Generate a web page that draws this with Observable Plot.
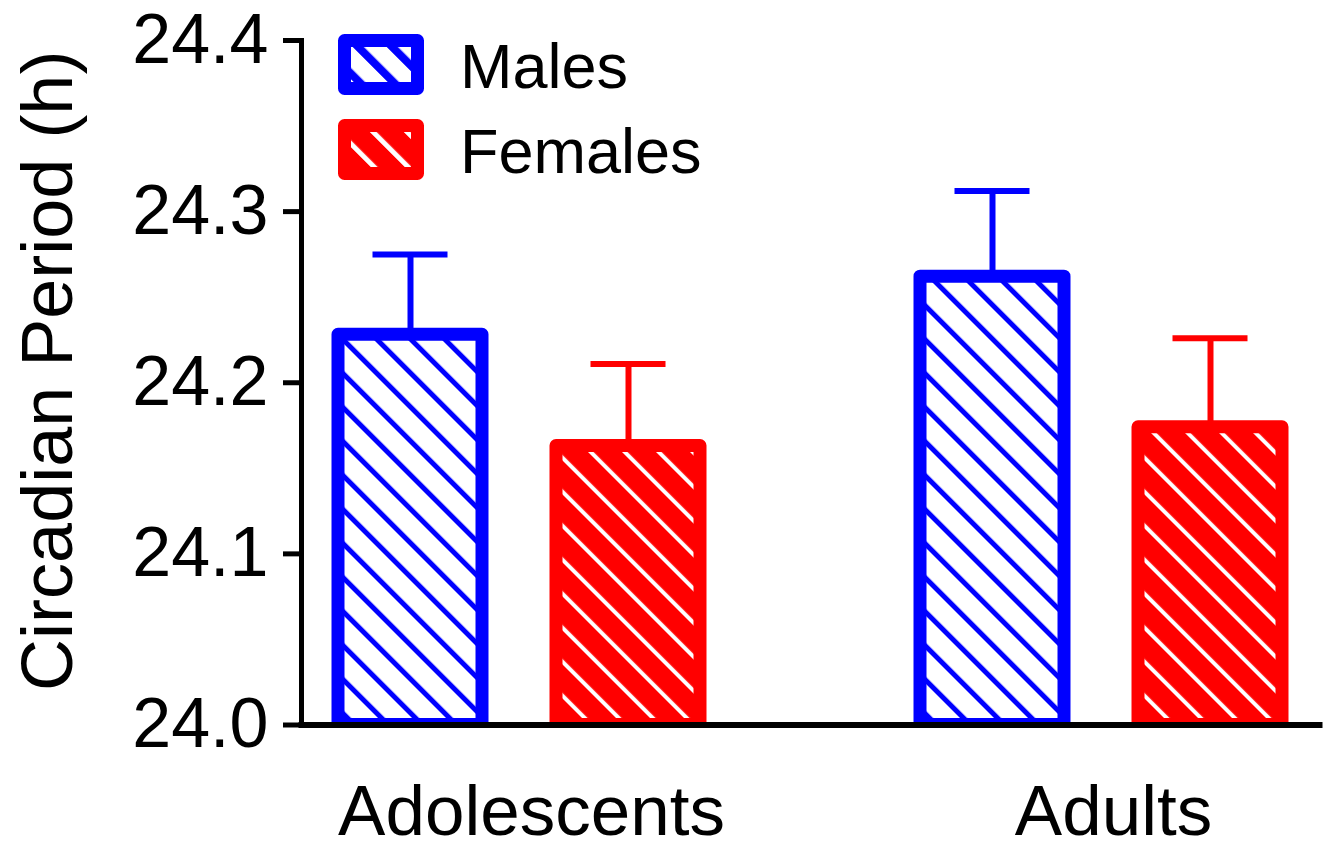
<!DOCTYPE html>
<html>
<head>
<meta charset="utf-8">
<script src="https://cdn.jsdelivr.net/npm/d3@7"></script>
<script src="https://cdn.jsdelivr.net/npm/@observablehq/plot@0.6"></script>
<style>
  html, body { margin: 0; padding: 0; background: #fff; }
  #wrap { position: relative; width: 1328px; height: 850px; font-family: "Liberation Sans", Arial, sans-serif; }
  #legend { position: absolute; left: 320px; top: 20px; }
</style>
</head>
<body>
<svg width="0" height="0" style="position:absolute">
  <defs>
    <pattern id="pm" patternUnits="userSpaceOnUse" width="24.04" height="20" patternTransform="rotate(-45)">
      <rect width="24.04" height="20" fill="#fff"/>
      <rect width="5" height="20" fill="#0000ff"/>
    </pattern>
    <pattern id="pf" patternUnits="userSpaceOnUse" width="24.04" height="20" patternTransform="rotate(-45)">
      <rect width="24.04" height="20" fill="#ff0000"/>
      <rect width="4" height="20" fill="#fff"/>
    </pattern>
    <pattern id="lm" patternUnits="userSpaceOnUse" width="24.04" height="20" patternTransform="rotate(-45) translate(4,0)">
      <rect width="24.04" height="20" fill="#fff"/>
      <rect width="8" height="20" fill="#0000ff"/>
    </pattern>
    <pattern id="lf" patternUnits="userSpaceOnUse" width="24.04" height="20" patternTransform="rotate(-45) translate(4,0)">
      <rect width="24.04" height="20" fill="#ff0000"/>
      <rect width="5" height="20" fill="#fff"/>
    </pattern>
  </defs>
</svg>
<div id="wrap"></div>
<script>
// ---- data ----
const groups = ["Adolescents", "Adults"];
const sexes = ["Males", "Females"];
const maleMean = [24.228, 24.262];
const maleSem = [0.047, 0.050];
const femaleMean = [24.163, 24.174];
const femaleSem = [0.048, 0.052];
const yTicks = [24.0, 24.1, 24.2, 24.3, 24.4];
const yTitle = "Circadian Period (h)";

const rows = [];
groups.forEach((g, i) => {
  rows.push({group: g, sex: "Males", mean: maleMean[i], upper: maleMean[i] + maleSem[i]});
  rows.push({group: g, sex: "Females", mean: femaleMean[i], upper: femaleMean[i] + femaleSem[i]});
});
const isM = d => d.sex === "Males";
const isF = d => d.sex === "Females";
const FONT = "'Liberation Sans', Arial, sans-serif";

const plot = Plot.plot({
  width: 1328,
  height: 850,
  marginTop: 40,
  marginBottom: 125.5,
  marginLeft: 301,
  marginRight: 8.5,
  style: {fontFamily: FONT, color: "#000", background: "#fff", overflow: "hidden"},
  fx: {domain: groups, paddingInner: 0.2515, paddingOuter: 0, label: null},
  x: {domain: sexes, paddingInner: 0.3394, paddingOuter: 0.1697, axis: null, label: null},
  y: {domain: [24, 24.4], label: null},
  marks: [
    // error bars (stem + cap)
    Plot.ruleX(rows, {filter: isM, fx: "group", x: "sex", y1: "mean", y2: "upper", stroke: "#0000ff", strokeWidth: 6}),
    Plot.ruleX(rows, {filter: isF, fx: "group", x: "sex", y1: "mean", y2: "upper", stroke: "#ff0000", strokeWidth: 6}),
    Plot.tickY(rows, {filter: isM, fx: "group", x: "sex", y: "upper", stroke: "#0000ff", strokeWidth: 6, insetLeft: 34.5, insetRight: 34.5}),
    Plot.tickY(rows, {filter: isF, fx: "group", x: "sex", y: "upper", stroke: "#ff0000", strokeWidth: 6, insetLeft: 34.5, insetRight: 34.5}),
    // bars
    Plot.barY(rows, {filter: isM, fx: "group", x: "sex", y1: 24, y2: "mean", fill: "url(#pm)", stroke: "#0000ff", strokeWidth: 13, strokeLinejoin: "round", clip: true}),
    Plot.barY(rows, {filter: isF, fx: "group", x: "sex", y1: 24, y2: "mean", fill: "url(#pf)", stroke: "#ff0000", strokeWidth: 13, strokeLinejoin: "round", clip: true}),
    // axis lines
    Plot.frame({anchor: "left", facet: "super", stroke: "#000", strokeWidth: 5, strokeLinecap: "square"}),
    Plot.frame({anchor: "bottom", facet: "super", stroke: "#000", strokeWidth: 6}),
    // axes
    Plot.axisY({ticks: yTicks, tickFormat: d3.format(".1f"), tickSize: 18, tickPadding: 15, fontSize: 70, strokeWidth: 5, label: null}),
    Plot.axisFx({anchor: "bottom", tickSize: 0, tickPadding: 60, fontSize: 71, dx: 12, label: null}),
    // y title
    Plot.text([yTitle], {frameAnchor: "left", facet: "super", rotate: -90, lineAnchor: "bottom", textAnchor: "middle", dx: -230, dy: -12, fontSize: 72, fill: "#000"})
  ]
});

const wrap = document.getElementById("wrap");
wrap.appendChild(plot);

// legend overlay
const legend = document.createElement("div");
legend.id = "legend";
const items = [
  {label: sexes[0], color: "#0000ff", pat: "url(#lm)", y: 20.5},
  {label: sexes[1], color: "#ff0000", pat: "url(#lf)", y: 105.5}
];
const ns = "http://www.w3.org/2000/svg";
const lsvg = document.createElementNS(ns, "svg");
lsvg.setAttribute("width", 420);
lsvg.setAttribute("height", 180);
lsvg.style.fontFamily = FONT;
items.forEach(it => {
  const r = document.createElementNS(ns, "rect");
  r.setAttribute("x", 24.5); r.setAttribute("y", it.y);
  r.setAttribute("width", 73); r.setAttribute("height", 48);
  r.setAttribute("fill", it.pat); r.setAttribute("stroke", it.color);
  r.setAttribute("stroke-width", 13); r.setAttribute("stroke-linejoin", "round");
  lsvg.appendChild(r);
  const t = document.createElementNS(ns, "text");
  t.setAttribute("x", 140); t.setAttribute("y", it.y + 47.5);
  t.setAttribute("font-size", 63); t.setAttribute("fill", "#000");
  t.textContent = it.label;
  lsvg.appendChild(t);
});
legend.appendChild(lsvg);
wrap.appendChild(legend);
</script>
</body>
</html>
